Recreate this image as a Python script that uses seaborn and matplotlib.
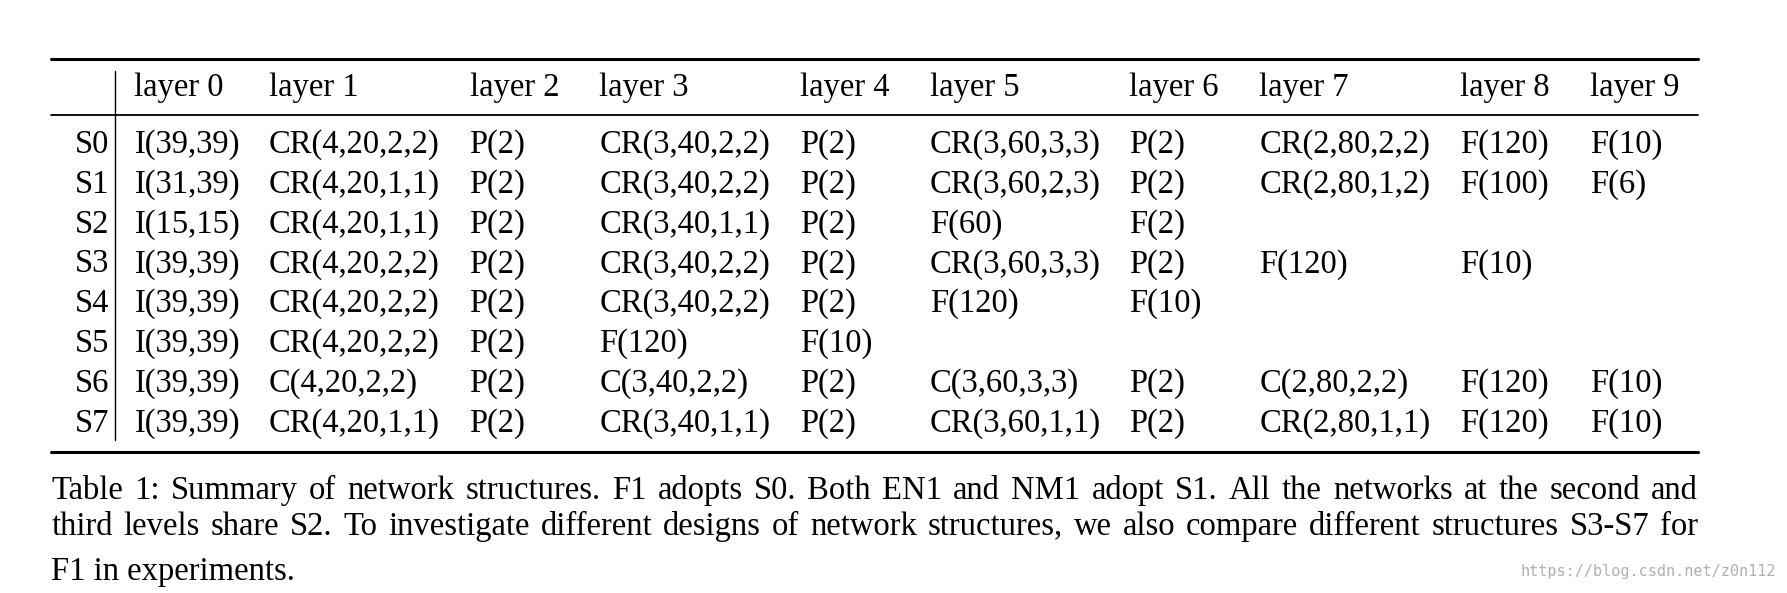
import matplotlib
matplotlib.use("Agg")
import matplotlib.pyplot as plt
import seaborn as sns

# table content
col_labels = ["layer 0", "layer 1", "layer 2", "layer 3", "layer 4",
              "layer 5", "layer 6", "layer 7", "layer 8", "layer 9"]
row_labels = ["S0", "S1", "S2", "S3", "S4", "S5", "S6", "S7"]
rows = [
    ["I(39,39)", "CR(4,20,2,2)", "P(2)", "CR(3,40,2,2)", "P(2)", "CR(3,60,3,3)", "P(2)", "CR(2,80,2,2)", "F(120)", "F(10)"],
    ["I(31,39)", "CR(4,20,1,1)", "P(2)", "CR(3,40,2,2)", "P(2)", "CR(3,60,2,3)", "P(2)", "CR(2,80,1,2)", "F(100)", "F(6)"],
    ["I(15,15)", "CR(4,20,1,1)", "P(2)", "CR(3,40,1,1)", "P(2)", "F(60)", "F(2)", "", "", ""],
    ["I(39,39)", "CR(4,20,2,2)", "P(2)", "CR(3,40,2,2)", "P(2)", "CR(3,60,3,3)", "P(2)", "F(120)", "F(10)", ""],
    ["I(39,39)", "CR(4,20,2,2)", "P(2)", "CR(3,40,2,2)", "P(2)", "F(120)", "F(10)", "", "", ""],
    ["I(39,39)", "CR(4,20,2,2)", "P(2)", "F(120)", "F(10)", "", "", "", "", ""],
    ["I(39,39)", "C(4,20,2,2)", "P(2)", "C(3,40,2,2)", "P(2)", "C(3,60,3,3)", "P(2)", "C(2,80,2,2)", "F(120)", "F(10)"],
    ["I(39,39)", "CR(4,20,1,1)", "P(2)", "CR(3,40,1,1)", "P(2)", "CR(3,60,1,1)", "P(2)", "CR(2,80,1,1)", "F(120)", "F(10)"],
]
caption = [
    "Table 1: Summary of network structures. F1 adopts S0. Both EN1 and NM1 adopt S1. All the networks at the second and",
    "third levels share S2. To investigate different designs of network structures, we also compare different structures S3-S7 for",
    "F1 in experiments.",
]
watermark = "https://blog.csdn.net/z0n112"

sns.set_theme(style="white")
W, H = 1568, 520  # layout units
fig = plt.figure(figsize=(17.87, 5.93), dpi=100)
ax = fig.add_axes([0, 0, 1, 1])
ax.set_xlim(0, W)
ax.set_ylim(H, 0)
ax.axis("off")

font = dict(family="Liberation Serif", fontsize=23.5, color="black")
col_x = [118, 236, 412, 526, 702, 816, 991, 1105, 1281, 1395]
row_y = [127 + i * 34.9 for i in range(len(row_labels))]

# rules
ax.plot([45, 1490], [52, 52], color="black", lw=2.2)
ax.plot([45, 1490], [101, 101], color="black", lw=1.3)
ax.plot([45, 1490], [396, 396], color="black", lw=2.2)
ax.plot([101, 101], [62, 386], color="black", lw=1.0)

for x, lab in zip(col_x, col_labels):
    ax.text(x, 77, lab, ha="left", va="center", **font)
for y, rl, vals in zip(row_y, row_labels, rows):
    ax.text(96, y, rl, ha="right", va="center", **font)
    for x, v in zip(col_x, vals):
        if v:
            ax.text(x, y, v, ha="left", va="center", **font)

# caption, first two lines justified to the table width
fig.canvas.draw()
renderer = fig.canvas.get_renderer()
inv = ax.transData.inverted()
cap_y = [430, 462, 501]
for i, (line, y) in enumerate(zip(caption, cap_y)):
    if i == len(caption) - 1:
        ax.text(45, y, line, ha="left", va="center", **font)
        continue
    words = line.split(" ")
    arts = [ax.text(0, y, w, ha="left", va="center", **font) for w in words]
    widths = []
    for a in arts:
        bb = a.get_window_extent(renderer)
        p0 = inv.transform((bb.x0, 0))[0]
        p1 = inv.transform((bb.x1, 0))[0]
        widths.append(p1 - p0)
    gap = (1490 - 45 - sum(widths)) / (len(words) - 1)
    x = 45
    for a, w in zip(arts, widths):
        a.set_x(x)
        x += w + gap

ax.text(1558, 501, watermark, ha="right", va="center", family="DejaVu Sans Mono",
        fontsize=11, color="#b0b0b0")

fig.savefig("out.png", dpi=100, facecolor="white")
